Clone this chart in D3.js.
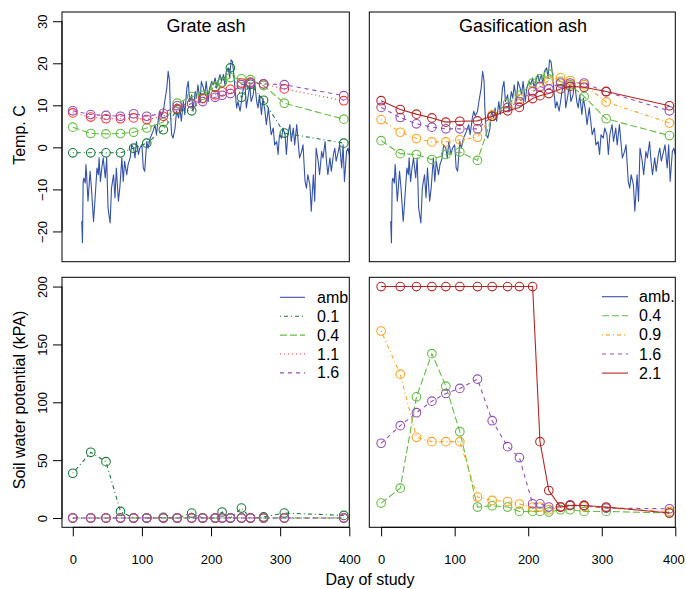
<!DOCTYPE html>
<html>
<head>
<meta charset="utf-8">
<script src="https://cdn.jsdelivr.net/npm/d3@7"></script>
<style>
  body { margin: 0; background: #fff; }
  text { font-family: "Liberation Sans", Arial, Helvetica, sans-serif; fill: #000; }
</style>
</head>
<body>
<svg id="chart" width="686" height="589"></svg>
<script>
// Daily ambient air temperature, [day, °C]
const ambient = [[13,-17.6],[14,-22.7],[15,-8.1],[16,-7.3],[18,-8.5],[19,-4.1],[20,-6.5],[22,-12.8],[25,-5.7],[27,-9.7],[30,-17.6],[32,-12.8],[35,-4.9],[37,-6.5],[38,-2.5],[40,-8.1],[42,-4.9],[44,-2.5],[47,-7.3],[49,-2.5],[51,-14.4],[54,-18.0],[56,-9.7],[59,-6.5],[61,-12.0],[63,-4.9],[66,-12.8],[68,-9.7],[71,-2.5],[73,-8.1],[75,-3.3],[78,-6.5],[80,-4.1],[83,-2.5],[85,0.6],[88,-0.2],[90,-2.5],[92,1.4],[95,-1.7],[97,-0.2],[100,0.6],[102,-4.9],[104,-5.7],[107,1.4],[109,-0.2],[112,2.2],[114,3.0],[116,3.8],[119,5.4],[121,3.0],[124,7.0],[126,8.6],[128,7.4],[131,8.6],[133,10.9],[136,14.1],[138,18.1],[140,15.7],[141,9.4],[143,3.0],[145,2.2],[148,4.6],[150,8.6],[153,7.0],[155,9.4],[157,6.2],[160,10.9],[162,7.8],[165,14.1],[167,15.7],[169,10.9],[172,12.5],[174,8.6],[177,13.3],[179,11.7],[181,14.9],[184,10.9],[186,15.7],[189,14.1],[191,12.5],[193,15.7],[196,10.9],[198,14.1],[201,15.7],[203,14.9],[206,16.5],[208,14.1],[210,15.7],[213,17.3],[215,15.7],[218,17.3],[220,14.9],[222,18.1],[225,18.9],[227,16.5],[229,20.8],[231,20.4],[233,17.3],[235,13.3],[237,9.4],[239,10.9],[242,8.6],[244,10.9],[246,13.3],[249,15.7],[251,9.4],[254,12.5],[256,14.9],[258,10.9],[261,12.5],[263,15.7],[266,10.9],[268,9.4],[270,12.5],[273,7.8],[275,11.7],[278,8.6],[280,5.4],[283,9.4],[285,6.2],[287,3.0],[290,4.6],[292,0.6],[295,1.4],[297,-1.7],[299,3.0],[302,2.2],[304,4.6],[307,3.0],[309,-1.7],[311,3.0],[314,5.4],[316,1.4],[319,4.6],[321,0.6],[324,5.4],[326,1.4],[328,-2.5],[331,-1.0],[333,0.6],[336,-8.1],[338,-9.7],[340,-6.5],[343,-8.9],[345,-15.2],[348,-6.5],[350,-12.8],[352,-0.2],[355,-3.3],[357,-6.5],[360,-1.0],[362,-2.5],[365,1.4],[367,-3.3],[369,-6.5],[372,-2.5],[374,-5.7],[377,-1.7],[379,-0.2],[381,-3.3],[384,-1.0],[386,0.6],[389,-4.9],[391,0.6],[393,-8.1],[396,-1.0],[398,-0.2],[401,-2.5]];

// Soil sampling days
const sampleDays = [0, 26, 48, 69, 88, 107, 131, 151, 172, 188, 206, 216, 228, 244, 257, 276, 306, 392];

// Grate ash: soil temperature (°C) by application rate
const grateTemp01 = [-1.3, -1.3, -1.3, -1.3, -0.2, 1.0, 4.2, 9.0, 8.7, 11.7, 14.3, 15.5, 18.9, 11.9, 15.0, 11.2, 3.4, 1.0];
const grateTemp04 = [4.8, 3.3, 3.2, 3.3, 3.6, 4.6, 6.0, 10.5, 12.1, 12.4, 14.5, 15.5, 16.6, 16.3, 16.1, 14.7, 10.5, 6.7];
const grateTemp11 = [8.2, 7.2, 6.8, 6.8, 7.0, 6.6, 7.4, 9.2, 10.4, 11.6, 12.5, 13.2, 13.8, 15.3, 15.5, 15.1, 13.9, 11.1];
const grateTemp16 = [8.7, 7.8, 7.6, 7.4, 8.0, 7.4, 8.1, 9.9, 10.4, 10.9, 11.9, 12.4, 12.8, 14.9, 15.3, 15.1, 14.9, 12.3];

// Gasification ash: soil temperature (°C) by application rate
const gasTemp04 = [1.6, -1.5, -1.7, -2.9, -1.7, -1.1, -3.1, 7.4, 10.5, 12.4, 15.3, 16.3, 17.4, 15.7, 14.9, 12.1, 6.8, 2.8];
const gasTemp09 = [6.6, 3.6, 2.1, 1.3, 1.3, 1.8, 2.4, 7.8, 9.5, 11.6, 13.5, 14.3, 15.9, 16.6, 15.9, 14.9, 10.8, 5.8];
const gasTemp16 = [9.5, 7.1, 5.6, 4.8, 4.4, 4.4, 4.4, 7.4, 9.5, 10.9, 13.2, 14.5, 13.9, 15.3, 15.3, 15.3, 13.2, 8.7];
const gasTemp21 = [11.1, 9.0, 7.9, 7.0, 6.0, 6.2, 6.3, 7.4, 8.7, 9.5, 11.6, 12.3, 12.8, 13.9, 14.5, 14.3, 13.3, 9.9];

// Grate ash: soil water potential (kPa)
const grateSwp01 = [38.7, 56.8, 48.7, 5.7, 0, 0, 0.5, 0, 4.3, 0, 0, 5.2, 0, 8.6, 0, 1.0, 4.3, 2.3];
const grateSwp04 = [0, 0, 0, 0, 0, 0, 0, 0, 0, 0, 0, 0, 0, 0, 0, 0, 0, 0];
const grateSwp11 = [0, 0, 0, 0, 0, 0, 0, 0, 0, 0, 0, 0, 0, 0, 0, 0, 0, 0];
const grateSwp16 = [0, 0, 0, 0, 0, 0, 0, 0, 0, 0, 0, 0, 0, 0, 0, 0, 0, 0];

// Gasification ash: soil water potential (kPa)
const gasSwp04 = [12.9, 25.8, 104.7, 142, 113.9, 74.6, 9.5, 10.6, 9.5, 5.7, 5.7, 5.7, 5.2, 7.2, 7.2, 5.7, 5.7, 4.3];
const gasSwp09 = [161.6, 124.3, 69.7, 66, 66, 66, 18.1, 15.2, 14.3, 12.1, 9.5, 9.5, 7.2, 9.5, 10.9, 10.0, 8.6, 5.7];
const gasSwp16 = [64.6, 79.8, 91, 101, 107.6, 112, 120, 84.1, 61.7, 52.2, 12.3, 12.3, 9.5, 9.5, 11.5, 10.9, 8.6, 8.0];
const gasSwp21 = [200, 200, 200, 200, 200, 200, 200, 200, 200, 200, 200, 66.0, 23.8, 9.5, 10.9, 10.9, 9.5, 4.3];

// Axis ticks and labels
const dayTicks = [0, 100, 200, 300, 400];
const tempTicks = [-20, -10, 0, 10, 20, 30];
const swpTicks = [0, 50, 100, 150, 200];
const panelTitles = ["Grate ash", "Gasification ash"];
const grateLegend = ["amb", "0.1", "0.4", "1.1", "1.6"];
const gasLegend = ["amb.", "0.4", "0.9", "1.6", "2.1"];

// Series styling
const C = {
  amb: "#3452a8", r01: "#1b7a3a", r04: "#66bb44", r11: "#ff3030",
  r16: "#9350b3", r09: "#ffa420", r21: "#b42626"
};
const DASH = { solid: null, dotdash: "1,3,4,3", longdash: "7,3", dotted: "1,3", dashed: "4,4" };

const svg = d3.select("#chart");

const layout = {
  tl: { x: [62, 349.3], y: [12, 261.7], xd: [-15.6, 400], yd: [-27.2, 32.2] },
  tr: { x: [369.3, 675.3], y: [12, 261.7], xd: [-16.1, 400], yd: [-27.2, 32.2] },
  bl: { x: [62, 349.3], y: [277.3, 527.3], xd: [-15.6, 400], yd: [-8, 208] },
  br: { x: [369.3, 675.3], y: [277.3, 527.3], xd: [-16.1, 400], yd: [-8, 208] }
};

function makePanel(key) {
  const p = layout[key];
  const sx = d3.scaleLinear().domain(p.xd).range(p.x);
  const sy = d3.scaleLinear().domain(p.yd).range([p.y[1], p.y[0]]);
  const clipId = "clip-" + key;
  svg.append("clipPath").attr("id", clipId)
    .append("rect").attr("x", p.x[0]).attr("y", p.y[0])
    .attr("width", p.x[1] - p.x[0]).attr("height", p.y[1] - p.y[0]);
  const g = svg.append("g").attr("clip-path", `url(#${clipId})`);
  return { p, sx, sy, g };
}

function drawBox(P) {
  svg.append("rect")
    .attr("x", P.p.x[0]).attr("y", P.p.y[0])
    .attr("width", P.p.x[1] - P.p.x[0]).attr("height", P.p.y[1] - P.p.y[0])
    .attr("fill", "none").attr("stroke", "#000").attr("stroke-width", 1);
}

function drawAmbient(P) {
  const line = d3.line().x(d => P.sx(d[0])).y(d => P.sy(d[1]));
  P.g.append("path").datum(ambient)
    .attr("d", line).attr("fill", "none")
    .attr("stroke", C.amb).attr("stroke-width", 1.1).attr("stroke-linejoin", "round");
}

function drawSeries(P, vals, color, dash) {
  const data = sampleDays.map((d, i) => [d, vals[i]]);
  const line = d3.line().x(d => P.sx(d[0])).y(d => P.sy(d[1]));
  P.g.append("path").datum(data)
    .attr("d", line).attr("fill", "none")
    .attr("stroke", color).attr("stroke-width", 1.1)
    .attr("stroke-dasharray", dash);
  P.g.selectAll(null).data(data).enter().append("circle")
    .attr("cx", d => P.sx(d[0])).attr("cy", d => P.sy(d[1]))
    .attr("r", 4.3).attr("fill", "none")
    .attr("stroke", color).attr("stroke-width", 1.1);
}

function yAxis(P, ticks) {
  const ax = svg.append("g").attr("transform", `translate(${P.p.x[0]},0)`)
    .call(d3.axisLeft(P.sy).tickValues(ticks).tickSize(9).tickSizeOuter(0).tickFormat(d3.format("d")));
  ax.select(".domain").remove();
  ax.append("line")
    .attr("x1", 0).attr("x2", 0)
    .attr("y1", P.sy(ticks[0])).attr("y2", P.sy(ticks[ticks.length - 1]))
    .attr("stroke", "#000");
  ax.selectAll(".tick line").attr("stroke", "#000");
  ax.selectAll(".tick text")
    .attr("x", 0).attr("y", 0).attr("dy", 0)
    .attr("transform", "translate(-15,0) rotate(-90)")
    .attr("text-anchor", "middle")
    .style("font-size", "13px")
    .style("font-family", '"Liberation Sans", Arial, sans-serif')
    .attr("fill", "#000");
}

function xAxis(P) {
  const ax = svg.append("g").attr("transform", `translate(0,${P.p.y[1]})`)
    .call(d3.axisBottom(P.sx).tickValues(dayTicks).tickSize(9).tickSizeOuter(0).tickPadding(18).tickFormat(d3.format("d")));
  ax.select(".domain").remove();
  ax.append("line")
    .attr("x1", P.sx(dayTicks[0])).attr("x2", P.sx(dayTicks[dayTicks.length - 1]))
    .attr("y1", 0).attr("y2", 0).attr("stroke", "#000");
  ax.selectAll(".tick line").attr("stroke", "#000");
  ax.selectAll(".tick text")
    .style("font-size", "13px")
    .style("font-family", '"Liberation Sans", Arial, sans-serif')
    .attr("fill", "#000");
  // keep the last label inside the page
  ax.selectAll(".tick text").filter(d => d === 400 && P.p.x[1] > 660).attr("dx", -2);
}

function legend(P, labels, styles, lx0, lx1, tx, y0, step) {
  const lg = svg.append("g");
  labels.forEach((lab, i) => {
    const y = y0 + i * step;
    lg.append("line").attr("x1", lx0).attr("x2", lx1).attr("y1", y).attr("y2", y)
      .attr("stroke", styles[i][0]).attr("stroke-width", 1.1)
      .attr("stroke-dasharray", styles[i][1]);
    lg.append("text").attr("x", tx).attr("y", y + 5.5)
      .style("font-size", "16px").text(lab);
  });
}

// Panels
const TL = makePanel("tl"), TR = makePanel("tr"), BL = makePanel("bl"), BR = makePanel("br");

// Grate ash temperature
drawAmbient(TL);
drawSeries(TL, grateTemp01, C.r01, DASH.dotdash);
drawSeries(TL, grateTemp04, C.r04, DASH.longdash);
drawSeries(TL, grateTemp11, C.r11, DASH.dotted);
drawSeries(TL, grateTemp16, C.r16, DASH.dashed);

// Gasification ash temperature
drawAmbient(TR);
drawSeries(TR, gasTemp04, C.r04, DASH.longdash);
drawSeries(TR, gasTemp09, C.r09, DASH.dotdash);
drawSeries(TR, gasTemp16, C.r16, DASH.dashed);
drawSeries(TR, gasTemp21, C.r21, DASH.solid);

// Grate ash soil water potential
drawSeries(BL, grateSwp01, C.r01, DASH.dotdash);
drawSeries(BL, grateSwp04, C.r04, DASH.longdash);
drawSeries(BL, grateSwp11, C.r11, DASH.dotted);
drawSeries(BL, grateSwp16, C.r16, DASH.dashed);

// Gasification ash soil water potential
drawSeries(BR, gasSwp04, C.r04, DASH.longdash);
drawSeries(BR, gasSwp09, C.r09, DASH.dotdash);
drawSeries(BR, gasSwp16, C.r16, DASH.dashed);
drawSeries(BR, gasSwp21, C.r21, DASH.solid);

[TL, TR, BL, BR].forEach(drawBox);

yAxis(TL, tempTicks);
yAxis(BL, swpTicks);
xAxis(BL);
xAxis(BR);

// Panel titles
svg.append("text").attr("x", 206).attr("y", 32).attr("text-anchor", "middle")
  .style("font-size", "18px").text(panelTitles[0]);
svg.append("text").attr("x", 523).attr("y", 32).attr("text-anchor", "middle")
  .style("font-size", "18px").text(panelTitles[1]);

// Axis titles
svg.append("text").attr("transform", "translate(25,135) rotate(-90)").attr("text-anchor", "middle")
  .style("font-size", "16px").text("Temp. C");
svg.append("text").attr("transform", "translate(25,400) rotate(-90)").attr("text-anchor", "middle")
  .style("font-size", "16px").text("Soil water potential (kPA)");
svg.append("text").attr("x", 370).attr("y", 585).attr("text-anchor", "middle")
  .style("font-size", "16px").text("Day of study");

// Legends
legend(BL, grateLegend,
  [[C.amb, DASH.solid], [C.r01, DASH.dotdash], [C.r04, DASH.longdash], [C.r11, DASH.dotted], [C.r16, DASH.dashed]],
  280, 305, 317, 297.3, 18.9);
legend(BR, gasLegend,
  [[C.amb, DASH.solid], [C.r04, DASH.longdash], [C.r09, DASH.dotdash], [C.r16, DASH.dashed], [C.r21, DASH.solid]],
  602, 628, 639, 296.7, 19.1);
</script>
</body>
</html>
